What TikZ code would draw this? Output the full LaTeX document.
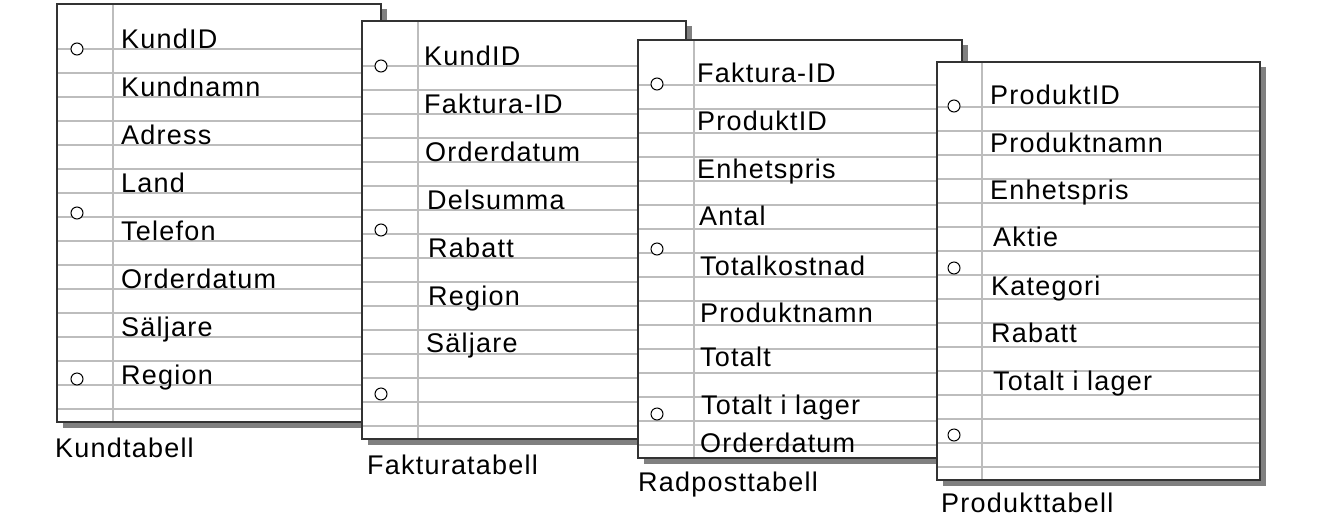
\documentclass[tikz,border=0pt]{standalone}
\usepackage{fontspec}
\setmainfont[LetterSpace=4.5]{Liberation Sans}
\definecolor{shadowc}{gray}{0.5}
\definecolor{rulec}{gray}{0.74}
\definecolor{borderc}{gray}{0.2}
\tikzset{
  ruling/.style={draw=rulec, line width=1.6pt},
  pageborder/.style={draw=borderc, line width=1.2pt},
  hole/.style={draw=black, line width=1pt, fill=white},
  fieldtxt/.style={anchor=base west, inner sep=0pt, font=\fontsize{27}{30}\selectfont},
  pagelbl/.style={anchor=base west, inner sep=0pt, font=\fontsize{27}{30}\selectfont}
}
% #1 x0, #2 y0, #3 width, #4 margin offset, #5 hole x offset, #6 #7 #8 hole y offsets
\newcommand{\notepage}[8]{%
  \fill[shadowc] (#1+6,#2+5) rectangle (#1+#3+6,#2+424);
  \fill[white] (#1,#2) rectangle (#1+#3,#2+418);
  \foreach \k in {0,...,15} \draw[ruling] (#1,#2+45+24*\k) -- (#1+#3,#2+45+24*\k);
  \draw[ruling] (#1+#4,#2) -- (#1+#4,#2+418);
  \draw[pageborder] (#1,#2) rectangle (#1+#3,#2+418);
  \draw[hole] (#1+#5,#2+#6) circle[radius=6pt];
  \draw[hole] (#1+#5,#2+#7) circle[radius=6pt];
  \draw[hole] (#1+#5,#2+#8) circle[radius=6pt];
}
\begin{document}
\begin{tikzpicture}[x=1pt,y=-1pt]
\useasboundingbox (0,0) rectangle (1343,528);
% Page 1
\notepage{57}{4}{324}{56}{20}{45}{209}{375}
\node[fieldtxt] (k1) at (121,48) {KundID};
\node[fieldtxt] (k2) at (121,96) {Kundnamn};
\node[fieldtxt] (k3) at (121,144) {Adress};
\node[fieldtxt] (k4) at (121,192) {Land};
\node[fieldtxt] (k5) at (121,240) {Telefon};
\node[fieldtxt] (k6) at (121,288) {Orderdatum};
\node[fieldtxt] (k7) at (121,336) {Säljare};
\node[fieldtxt] (k8) at (121,384) {Region};
\node[pagelbl] (l1) at (55,457) {Kundtabell};
% Page 2
\notepage{362}{21}{324}{56}{19}{45}{209}{373}
\node[fieldtxt] (f1) at (424,65) {KundID};
\node[fieldtxt] (f2) at (424,113) {Faktura-ID};
\node[fieldtxt] (f3) at (425,161) {Orderdatum};
\node[fieldtxt] (f4) at (427,209) {Delsumma};
\node[fieldtxt] (f5) at (428,257) {Rabatt};
\node[fieldtxt] (f6) at (428,305) {Region};
\node[fieldtxt] (f7) at (426,352) {Säljare};
\node[pagelbl] (l2) at (367,474) {Fakturatabell};
% Page 3
\notepage{638}{40}{324}{56}{19}{44}{209}{374}
\node[fieldtxt] (r1) at (697,82) {Faktura-ID};
\node[fieldtxt] (r2) at (697,130) {ProduktID};
\node[fieldtxt] (r3) at (697,178) {Enhetspris};
\node[fieldtxt] (r4) at (699,225) {Antal};
\node[fieldtxt] (r5) at (700,275) {Totalkostnad};
\node[fieldtxt] (r6) at (700,322) {Produktnamn};
\node[fieldtxt] (r7) at (700,366) {Totalt};
\node[fieldtxt] (r8) at (701,414) {Totalt i lager};
\node[fieldtxt] (r9) at (700,452) {Orderdatum};
\node[pagelbl] (l3) at (638,491) {Radposttabell};
% Page 4
\notepage{937}{62}{323}{45}{17}{44}{206}{373}
\node[fieldtxt] (p1) at (990,104) {ProduktID};
\node[fieldtxt] (p2) at (990,152) {Produktnamn};
\node[fieldtxt] (p3) at (990,199) {Enhetspris};
\node[fieldtxt] (p4) at (993,246) {Aktie};
\node[fieldtxt] (p5) at (991,295) {Kategori};
\node[fieldtxt] (p6) at (991,342) {Rabatt};
\node[fieldtxt] (p7) at (993,390) {Totalt i lager};
\node[pagelbl] (l4) at (941,512) {Produkttabell};
\end{tikzpicture}
\end{document}
